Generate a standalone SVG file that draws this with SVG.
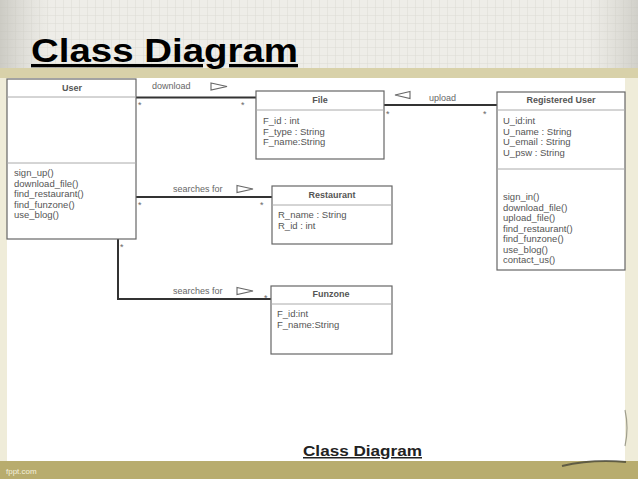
<svg xmlns="http://www.w3.org/2000/svg" width="638" height="479" viewBox="0 0 638 479">
<defs>
<pattern id="grid" width="8" height="8" patternUnits="userSpaceOnUse">
<rect width="8" height="8" fill="#eeede8"/>
<path d="M8 0V8M0 8H8" stroke="#dcdbd4" stroke-width="1" fill="none"/>
</pattern>
<linearGradient id="vig" x1="0" y1="0" x2="1" y2="0">
<stop offset="0" stop-color="#bdbcb4" stop-opacity="0.7"/>
<stop offset="0.08" stop-color="#d0cfc8" stop-opacity="0"/>
<stop offset="0.92" stop-color="#d0cfc8" stop-opacity="0"/>
<stop offset="1" stop-color="#bdbcb4" stop-opacity="0.6"/>
</linearGradient>
<style>
.box{fill:#fff;stroke:#666;stroke-width:1.2}
.div{stroke:#aaa;stroke-width:1}
.hd{font-family:"Liberation Sans",Arial,sans-serif;font-size:9px;font-weight:bold;fill:#555;text-anchor:middle}
.tx{font-family:"Liberation Sans",Arial,sans-serif;font-size:9.5px;fill:#555}
.lb{font-family:"Liberation Sans",Arial,sans-serif;font-size:9px;fill:#666}
.st{font-family:"Liberation Sans",Arial,sans-serif;font-size:9px;fill:#666}
.as{stroke:#333;stroke-width:2;fill:none}
.tri{fill:#fff;stroke:#666;stroke-width:1.1}
</style>
</defs>
<rect width="638" height="479" fill="url(#grid)"/>
<rect width="638" height="479" fill="url(#vig)"/>
<rect x="0" y="68" width="638" height="400" fill="#efecd9"/>
<rect x="0" y="68" width="638" height="10" fill="#d8d1a9"/>
<rect x="7" y="78" width="618" height="383" fill="#ffffff"/>
<rect x="0" y="461" width="638" height="18" fill="#b8ac6e"/>
<path d="M562 466 Q592 459 626 462" stroke="#3a3a30" stroke-width="2" fill="none" opacity="0.7"/>
<path d="M625 410 Q629 428 625 446" stroke="#6a6a5a" stroke-width="1.2" fill="none" opacity="0.6"/>
<text x="31" y="62" font-family="Liberation Sans,Arial,sans-serif" font-size="33" font-weight="bold" fill="#000" textLength="267" lengthAdjust="spacingAndGlyphs" text-decoration="underline">Class Diagram</text>
<text x="6" y="474" font-family="Liberation Sans,Arial,sans-serif" font-size="8" fill="#f4f0dc">fppt.com</text>
<text x="303" y="456" font-family="Liberation Sans,Arial,sans-serif" font-size="15" font-weight="bold" fill="#222" textLength="119" lengthAdjust="spacingAndGlyphs" text-decoration="underline">Class Diagram</text>

<g id="connectors">
<path class="as" d="M136 97.5H256"/>
<path class="as" d="M384 105H497"/>
<path class="as" d="M136 197H272"/>
<path class="as" d="M118 239V299H271"/>
<text class="lb" x="152" y="89">download</text>
<polygon class="tri" points="211,83 227,86.5 211,90"/>
<text class="st" x="138" y="108">*</text>
<text class="st" x="241" y="108">*</text>
<text class="lb" x="429" y="101">upload</text>
<polygon class="tri" points="410,91.5 395,95 410,98.5"/>
<text class="st" x="386" y="117">*</text>
<text class="st" x="483" y="117">*</text>
<text class="lb" x="173" y="192">searches for</text>
<polygon class="tri" points="237,185.5 253,189 237,192.5"/>
<text class="st" x="138" y="208">*</text>
<text class="st" x="260" y="208">*</text>
<text class="lb" x="173" y="294">searches for</text>
<polygon class="tri" points="237,287.5 253,291 237,294.5"/>
<text class="st" x="264" y="301">*</text>
<text class="st" x="120" y="250">*</text>
</g>

<g id="User">
<rect class="box" x="7" y="79" width="129" height="160"/>
<line class="div" x1="7" y1="97" x2="136" y2="97"/>
<line class="div" x1="7" y1="163" x2="136" y2="163" stroke="#777"/>
<text class="hd" x="72" y="91">User</text>
<text class="tx" x="14" y="176">sign_up()</text>
<text class="tx" x="14" y="186.5">download_file()</text>
<text class="tx" x="14" y="197">find_restaurant()</text>
<text class="tx" x="14" y="207.5">find_funzone()</text>
<text class="tx" x="14" y="218">use_blog()</text>
</g>

<g id="File">
<rect class="box" x="256" y="91" width="128" height="68"/>
<line class="div" x1="256" y1="110" x2="384" y2="110"/>
<text class="hd" x="320" y="103">File</text>
<text class="tx" x="263" y="124">F_id : int</text>
<text class="tx" x="263" y="134.5">F_type : String</text>
<text class="tx" x="263" y="145">F_name:String</text>
</g>

<g id="RegisteredUser">
<rect class="box" x="497" y="92" width="128" height="178"/>
<line class="div" x1="497" y1="110" x2="625" y2="110"/>
<line class="div" x1="497" y1="169" x2="625" y2="169" stroke="#777"/>
<text class="hd" x="561" y="103">Registered User</text>
<text class="tx" x="503" y="124">U_id:int</text>
<text class="tx" x="503" y="134.5">U_name : String</text>
<text class="tx" x="503" y="145">U_email : String</text>
<text class="tx" x="503" y="155.5">U_psw : String</text>
<text class="tx" x="503" y="200">sign_in()</text>
<text class="tx" x="503" y="210.5">download_file()</text>
<text class="tx" x="503" y="221">upload_file()</text>
<text class="tx" x="503" y="231.5">find_restaurant()</text>
<text class="tx" x="503" y="242">find_funzone()</text>
<text class="tx" x="503" y="252.5">use_blog()</text>
<text class="tx" x="503" y="263">contact_us()</text>
</g>

<g id="Restaurant">
<rect class="box" x="272" y="186" width="120" height="58"/>
<line class="div" x1="272" y1="205" x2="392" y2="205"/>
<text class="hd" x="332" y="198">Restaurant</text>
<text class="tx" x="278" y="218">R_name : String</text>
<text class="tx" x="278" y="229">R_id : int</text>
</g>

<g id="Funzone">
<rect class="box" x="271" y="286" width="121" height="68"/>
<line class="div" x1="271" y1="304" x2="392" y2="304"/>
<text class="hd" x="331" y="297">Funzone</text>
<text class="tx" x="277" y="317">F_id:int</text>
<text class="tx" x="277" y="328">F_name:String</text>
</g>
</svg>
